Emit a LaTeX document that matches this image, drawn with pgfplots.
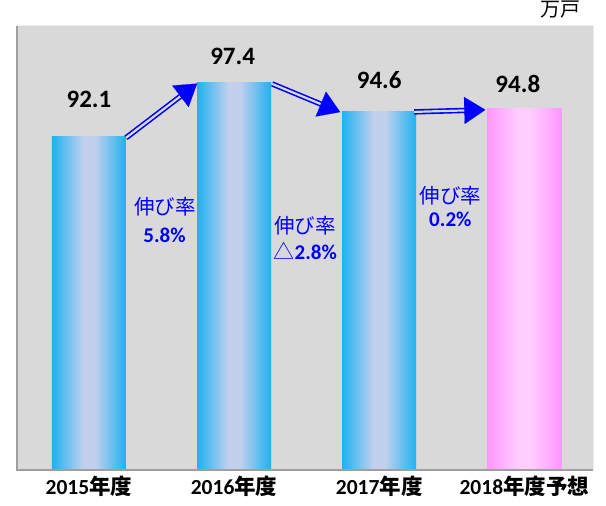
\documentclass[border=0pt]{standalone}
\usepackage{fontspec}
\setmainfont{Carlito}
\newfontfamily\jp{Noto Sans CJK JP}
\usepackage{pgfplots}
\pgfplotsset{compat=1.18}
\usetikzlibrary{arrows.meta,calc}
\definecolor{plotbg}{RGB}{217,217,217}
\definecolor{bbe}{RGB}{30,178,240}
\definecolor{bbm}{RGB}{194,208,238}
\definecolor{bpe}{RGB}{255,150,255}
\definecolor{bpm}{RGB}{255,206,255}
\definecolor{arrowblue}{RGB}{0,0,255}
\pgfdeclarehorizontalshading{blueshade}{100bp}{color(0bp)=(bbe); color(25bp)=(bbe); color(46bp)=(bbm); color(54bp)=(bbm); color(75bp)=(bbe); color(100bp)=(bbe)}
\pgfdeclarehorizontalshading{pinkshade}{100bp}{color(0bp)=(bpe); color(25bp)=(bpe); color(46bp)=(bpm); color(54bp)=(bpm); color(75bp)=(bpe); color(100bp)=(bpe)}
\newcommand{\dblarrow}[2]{%
  \draw[arrowblue, line width=1.6bp, double=plotbg, double distance=2.2bp, shorten >=16bp] #1 -- #2;
  \draw[arrowblue, line width=0.1pt, -{Triangle[length=21bp,width=27bp]}] ($#1!0.995!#2$) -- #2;
}
\begin{document}
\begin{tikzpicture}
\begin{axis}[
  at={(0,0)}, anchor=south west,
  scale only axis, width=576bp, height=444bp,
  xmin=-0.496, xmax=3.473, ymin=60, ymax=102.8,
  axis background/.style={fill=plotbg},
  axis line style={draw=none},
  ytick=\empty,
  xtick={0,1,2,3},
  xticklabels={{2015\jp 年度},{2016\jp 年度},{2017\jp 年度},{2018\jp 年度予想}},
  xticklabel style={font=\fontsize{21.5bp}{24bp}\selectfont\bfseries, yshift=-3bp},
  major tick length=0pt,
  ybar, bar width=74bp, bar shift=0pt,
  clip=false,
]
\addplot[draw=none, shading=blueshade] coordinates {(0,92.1)};
\addplot[draw=none, shading=blueshade] coordinates {(1,97.4)};
\addplot[draw=none, shading=blueshade] coordinates {(2,94.6)};
\addplot[draw=none, shading=pinkshade] coordinates {(3,94.8)};

\draw[gray!75, line width=1.5bp] (rel axis cs:0,1) -- (rel axis cs:0,0) -- (rel axis cs:1,0);
\draw[gray!15, line width=1bp] (rel axis cs:0,1) -- (rel axis cs:1,1) -- (rel axis cs:1,0);

\begin{scope}[every node/.style={font=\fontsize{25bp}{28bp}\selectfont\bfseries, text=black}]
\node at (axis cs:0,95.68) {92.1};
\node at (axis cs:0.99,99.83) {97.4};
\node at (axis cs:2.0,97.61) {94.6};
\node at (axis cs:2.955,97.17) {94.8};
\end{scope}

\dblarrow{(axis cs:0.255,92.02)}{(axis cs:0.745,97.25)}
\dblarrow{(axis cs:1.262,97.22)}{(axis cs:1.731,94.50)}
\dblarrow{(axis cs:2.241,94.52)}{(axis cs:2.731,94.72)}

\begin{scope}[every node/.style={text=arrowblue}]
\node[font=\fontsize{20.5bp}{24bp}\selectfont\jp] at (axis cs:0.524,85.36) {伸び率};
\node[font=\fontsize{21bp}{24bp}\selectfont\bfseries] at (axis cs:0.521,82.66) {5.8\%};
\node[font=\fontsize{20.5bp}{24bp}\selectfont\jp] at (axis cs:1.490,83.53) {伸び率};
\node[font=\fontsize{21bp}{24bp}\selectfont\bfseries] at (axis cs:1.490,81.12) {{\jp\mdseries △}2.8\%};
\node[font=\fontsize{20.5bp}{24bp}\selectfont\jp] at (axis cs:2.490,86.42) {伸び率};
\node[font=\fontsize{21bp}{24bp}\selectfont\bfseries] at (axis cs:2.490,84.16) {0.2\%};
\end{scope}

\node[font=\fontsize{20bp}{24bp}\selectfont\jp] at (rel axis cs:0.943,1.036) {万戸};
\end{axis}
\pgfresetboundingbox
\path[use as bounding box] (-17bp,-36bp) rectangle (589bp,470bp);
\end{tikzpicture}
\end{document}
